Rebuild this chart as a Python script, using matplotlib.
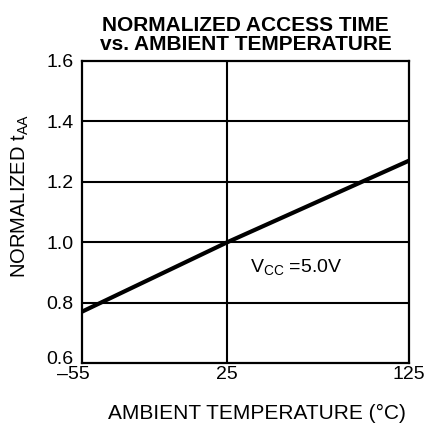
import matplotlib
matplotlib.use('Agg')
import matplotlib.pyplot as plt
import matplotlib.transforms as mtransforms

# normalized access time vs temperature
temperature = [-55, 25, 125]
t_aa = [0.77, 1.0, 1.27]
x_ticks = [-55, 25, 125]
x_labels = ['\u201355', '25', '125']
y_ticks = [0.6, 0.8, 1.0, 1.2, 1.4, 1.6]
y_labels = ['0.6', '0.8', '1.0', '1.2', '1.4', '1.6']

plt.rcParams['font.family'] = ['Liberation Sans', 'DejaVu Sans']
plt.rcParams['mathtext.fontset'] = 'custom'
plt.rcParams['mathtext.rm'] = 'Liberation Sans'

fig = plt.figure(figsize=(4.28, 4.23), dpi=100)
ax = fig.add_axes([0.1916, 0.1418, 0.764, 0.714])

ax.plot(temperature, t_aa, color='black', linewidth=3.0, solid_capstyle='butt', zorder=3)

ax.set_xlim(-55, 125)
ax.set_ylim(0.6, 1.6)
ax.set_xticks(x_ticks)
ax.set_xticklabels(x_labels)
ax.set_yticks(y_ticks)
ax.set_yticklabels(y_labels)
ax.tick_params(length=0, labelsize=14)
ax.tick_params(axis='x', pad=2)
ax.tick_params(axis='y', pad=6)

# nudge end labels like the original
lbl = ax.get_yticklabels()[0]
lbl.set_transform(lbl.get_transform() + mtransforms.ScaledTranslation(0, 4 / 72, fig.dpi_scale_trans))
lbl = ax.get_xticklabels()[0]
lbl.set_transform(lbl.get_transform() + mtransforms.ScaledTranslation(-9 / 100, 0, fig.dpi_scale_trans))

for y in y_ticks[1:-1]:
    ax.axhline(y, color='black', linewidth=1.5, zorder=1)
ax.axvline(25, color='black', linewidth=1.5, zorder=1)

for sp in ax.spines.values():
    sp.set_linewidth(1.6)

ax.set_xlabel('AMBIENT TEMPERATURE (\u00b0C)', fontsize=15)
ax.xaxis.set_label_coords(0.536, -0.135)
ax.set_ylabel(r'NORMALIZED t$_{\mathregular{AA}}$', fontsize=14.5)
ax.yaxis.set_label_coords(-0.156, 0.553)
ax.set_title('NORMALIZED ACCESS TIME\nvs. AMBIENT TEMPERATURE',
             fontsize=15, fontweight='bold', linespacing=1.0, pad=8)

ax.text(37.5, 0.915, r'V$_{\mathregular{CC}}$ =5.0V', fontsize=14, va='center')

fig.savefig('out.png', dpi=100)
